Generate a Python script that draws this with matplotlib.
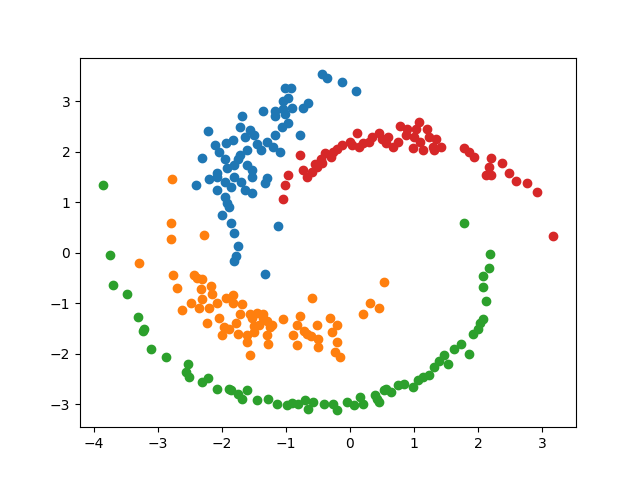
import matplotlib
matplotlib.use("Agg")
import matplotlib.pyplot as plt

# cluster points (x, y)
blue_pts = [
    (-0.43, 3.53), (-0.35, 3.45), (-0.12, 3.37), (0.09, 3.21),
    (-1.01, 3.27), (-0.92, 3.26), (-0.97, 3.07), (-1.05, 3.0), (-0.9, 2.87),
    (-0.65, 2.97), (-0.73, 2.87), (-1.36, 2.8), (-1.17, 2.8), (-1.05, 2.85),
    (-1.69, 2.71), (-1.17, 2.7), (-1.01, 2.75), (-0.97, 2.57), (-1.06, 2.49),
    (-0.78, 2.34), (-1.17, 2.34), (-2.22, 2.4), (-1.72, 2.49), (-1.56, 2.43),
    (-1.49, 2.34), (-1.64, 2.3), (-1.83, 2.24), (-1.93, 2.18), (-2.11, 2.14),
    (-2.04, 2.0), (-1.72, 1.94), (-1.6, 2.04), (-1.38, 2.04), (-1.09, 2.0),
    (-1.3, 2.2), (-1.45, 2.15), (-1.2, 2.1), (-2.3, 1.88), (-1.8, 1.74),
    (-1.91, 1.68), (-1.61, 1.74), (-1.53, 1.64), (-2.07, 1.58), (-1.75, 1.85),
    (-1.95, 1.85), (-2.07, 1.5), (-1.8, 1.5), (-1.52, 1.5), (-2.07, 1.24),
    (-1.64, 1.24), (-1.53, 1.18), (-1.33, 1.38), (-1.3, 1.48), (-1.95, 1.4),
    (-1.7, 1.4), (-2.2, 1.45), (-1.85, 1.3), (-2.4, 1.34), (-1.88, 0.9),
    (-1.91, 0.98), (-2.0, 0.74), (-1.85, 0.58), (-1.8, 0.4), (-1.74, 0.14),
    (-1.8, -0.16), (-1.78, -0.06), (-1.12, 0.52), (-1.33, -0.42), (-1.95, 1.1),
]

orange_pts = [
    (-2.78, 1.46), (-2.79, 0.58), (-2.79, 0.28), (-2.27, 0.36), (-3.29, -0.2),
    (-2.76, -0.44), (-2.7, -0.7), (-2.62, -1.14), (-2.43, -0.44), (-2.38, -0.5),
    (-2.3, -0.52), (-2.32, -0.72), (-2.16, -0.66), (-2.15, -0.82), (-2.3, -0.92),
    (-2.48, -1.0), (-2.35, -1.1), (-2.2, -1.1), (-2.07, -1.0), (-1.93, -0.9),
    (-1.83, -0.84), (-1.83, -1.0), (-1.69, -1.02), (-2.23, -1.4), (-2.04, -1.3),
    (-1.96, -1.46), (-1.99, -1.62), (-1.77, -1.4), (-1.72, -1.22), (-1.56, -1.22),
    (-1.45, -1.2), (-1.36, -1.22), (-1.3, -1.36), (-1.41, -1.42), (-1.49, -1.56),
    (-1.61, -1.62), (-1.75, -1.6), (-1.6, -1.76), (-1.3, -1.62), (-1.25, -1.46),
    (-1.28, -1.8), (-1.56, -2.02), (-1.52, -1.3), (-1.36, -1.3), (-1.22, -1.42),
    (-1.88, -1.5), (-1.5, -1.45), (-0.59, -0.9), (-1.05, -1.32), (-0.78, -1.26),
    (-0.83, -1.42), (-0.89, -1.62), (-0.83, -1.82), (-0.67, -1.6), (-0.51, -1.42),
    (-0.5, -1.7), (-0.5, -1.86), (-0.31, -1.3), (-0.2, -1.42), (-0.28, -1.56),
    (-0.2, -1.76), (-0.23, -1.96), (-0.15, -2.06), (-0.72, -1.55), (-0.6, -1.65),
    (0.53, -0.58), (0.32, -1.0), (0.45, -1.1), (0.2, -1.22),
]

green_pts = [
    (-3.86, 1.34), (-3.75, -0.04), (-3.69, -0.64), (-3.48, -0.82), (-3.31, -1.28),
    (-3.22, -1.5), (-3.23, -1.55), (-3.1, -1.9), (-2.87, -2.06), (-2.52, -2.2),
    (-2.55, -2.36), (-2.51, -2.46), (-2.3, -2.56), (-2.21, -2.48), (-2.07, -2.7),
    (-1.88, -2.7), (-1.85, -2.72), (-1.75, -2.8), (-1.69, -2.9), (-1.6, -2.72),
    (-1.45, -2.92), (-1.28, -2.9), (-1.14, -3.0), (-0.98, -3.02), (-0.81, -3.0),
    (-0.7, -2.92), (-0.65, -3.1), (-0.57, -2.96), (-0.26, -3.0), (-0.2, -3.12),
    (-0.04, -2.96), (0.06, -3.02), (0.16, -2.86), (0.21, -3.0), (0.4, -2.82),
    (0.45, -2.96), (0.43, -2.9), (0.53, -2.72), (0.64, -2.76), (0.75, -2.62),
    (0.56, -2.7), (0.98, -2.66), (1.06, -2.52), (1.23, -2.42), (1.31, -2.26),
    (1.47, -2.02), (1.53, -2.2), (1.63, -1.9), (1.74, -1.8), (1.86, -2.0),
    (1.93, -1.6), (2.0, -1.5), (2.08, -1.32), (2.13, -0.96), (2.08, -0.68),
    (2.08, -0.46), (2.18, -0.3), (2.19, -0.02), (1.78, 0.58), (1.4, -2.15),
    (1.15, -2.45), (0.85, -2.6), (-0.9, -2.98), (-0.4, -3.0), (2.03, -1.4),
]

red_pts = [
    (-0.78, 1.94), (-0.97, 1.54), (-1.01, 1.34), (-1.05, 1.06), (-0.73, 1.64),
    (-0.67, 1.5), (-0.59, 1.6), (-0.51, 1.7), (-0.43, 1.78), (-0.38, 1.98),
    (-0.26, 2.0), (-0.12, 2.14), (0.04, 2.14), (0.12, 2.38), (0.2, 2.18),
    (0.35, 2.3), (0.45, 2.38), (0.56, 2.18), (0.67, 2.1), (0.79, 2.5),
    (0.87, 2.34), (1.03, 2.44), (1.08, 2.58), (0.98, 2.08), (1.14, 2.04),
    (1.23, 2.3), (1.3, 2.1), (1.42, 2.1), (1.31, 2.04), (1.78, 2.08),
    (1.86, 2.0), (1.94, 1.9), (2.21, 1.88), (2.18, 1.7), (2.37, 1.78),
    (2.13, 1.54), (2.21, 1.54), (2.48, 1.58), (2.6, 1.42), (2.76, 1.38),
    (2.92, 1.2), (3.18, 0.34), (-0.3, 1.9), (-0.2, 2.05), (0.0, 2.2),
    (0.3, 2.2), (0.5, 2.25), (0.6, 2.3), (0.9, 2.45), (1.0, 2.3),
    (1.2, 2.45), (1.35, 2.25), (0.75, 2.2), (-0.55, 1.75), (-0.45, 1.85),
    (0.15, 2.1), (1.1, 2.2),
]

clusters = [blue_pts, orange_pts, green_pts, red_pts]

fig, ax = plt.subplots(figsize=(6.4, 4.8), dpi=100)

for pts in clusters:
    xs = [p[0] for p in pts]
    ys = [p[1] for p in pts]
    ax.scatter(xs, ys)

plt.savefig("out.png")
